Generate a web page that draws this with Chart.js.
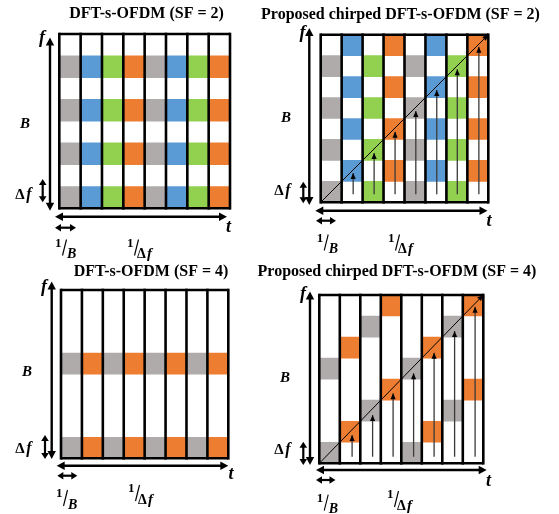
<!DOCTYPE html>
<html>
<head>
<meta charset="utf-8">
<script src="https://cdn.jsdelivr.net/npm/chart.js@4.4.1/dist/chart.umd.min.js"></script>
<style>
  html, body { margin: 0; padding: 0; background: #fff; }
  #wrap { position: relative; width: 559px; height: 514px; overflow: hidden; }
  #wrap canvas { position: absolute; left: 0; top: 0; }
</style>
</head>
<body>
<div id="wrap">
  <canvas id="p1" width="559" height="514"></canvas>
  <canvas id="p2" width="559" height="514"></canvas>
  <canvas id="p3" width="559" height="514"></canvas>
  <canvas id="p4" width="559" height="514"></canvas>
</div>
<script>
// time slots (OFDM symbols) along t
const symbols = ['1', '2', '3', '4', '5', '6', '7', '8'];
const subcarriers = 8;

// which user each symbol column belongs to
const userSF2 = [0, 1, 2, 3, 0, 1, 2, 3];
const userSF4 = [0, 3, 0, 3, 0, 3, 0, 3];

// occupied subcarrier rows (from bottom) in every symbol, plain DFT-s-OFDM
const rowsDftSF2 = [0, 2, 4, 6];
const rowsDftSF4 = [0, 4];

// occupied rows per symbol for the chirped version
const rowsChirpSF2 = [[0, 2, 4, 6], [1, 3, 5, 7], [0, 2, 4, 6], [1, 3, 5, 7],
                      [0, 2, 4, 6], [1, 3, 5, 7], [0, 2, 4, 6], [1, 3, 5, 7]];
const rowsChirpSF4 = [[0, 4], [1, 5], [2, 6], [3, 7], [0, 4], [1, 5], [2, 6], [3, 7]];

// frequency sweep arrows inside each symbol (x position, start, end)
const sweepX2 = [1.55, 2.55, 3.55, 4.54, 5.54, 6.52, 7.55];
const sweepFrom2 = [0.38, 0.38, 0.38, 0.38, 0.38, 0.38, 0.38];
const sweepTo2 = [1.4, 2.35, 3.37, 4.36, 5.36, 6.35, 7.43];
const sweepX4 = [1.6, 2.6, 3.6, 4.6, 5.6, 6.6, 7.6];
const sweepFrom4 = [0.31, 0.31, 0.31, 0.31, 0.31, 0.31, 0.31];
const sweepTo4 = [1.35, 2.3, 3.33, 4.28, 5.26, 6.29, 7.44];

// the chirp itself: a straight line across the whole block
const chirpX = [0, 8];
const chirpY = [0, 8];

const palette = ['#afabab', '#5b9bd5', '#92d050', '#ed7d31'];

function cellSets(rowsFor, users, count) {
  const sets = [];
  for (let k = 0; k < count; k++) {
    sets.push({
      type: 'bar',
      data: symbols.map((_, c) => [rowsFor(c)[k], rowsFor(c)[k] + 1]),
      backgroundColor: symbols.map((_, c) => palette[users[c]]),
      borderWidth: 0,
      grouped: false,
      barPercentage: 1,
      categoryPercentage: 1,
      xAxisID: 'x',
      order: 2
    });
  }
  return sets;
}

function lineSets(xs, from, to) {
  const sets = xs.map((x, i) => ({
    type: 'line',
    data: [{ x: x, y: from[i] }, { x: x, y: to[i] }],
    borderColor: '#3a3a3a',
    borderWidth: 1.3,
    pointRadius: 0,
    xAxisID: 'x2',
    arrow: true,
    order: 1
  }));
  sets.push({
    type: 'line',
    data: chirpX.map((x, i) => ({ x: x, y: chirpY[i] })),
    borderColor: '#000',
    borderWidth: 1,
    pointRadius: 0,
    xAxisID: 'x2',
    arrow: true,
    order: 1
  });
  return sets;
}

function arrowHead(ctx, x1, y1, x2, y2, len, half) {
  const a = Math.atan2(y2 - y1, x2 - x1);
  ctx.beginPath();
  ctx.moveTo(x2, y2);
  ctx.lineTo(x2 - len * Math.cos(a) + half * Math.sin(a), y2 - len * Math.sin(a) - half * Math.cos(a));
  ctx.lineTo(x2 - len * Math.cos(a) - half * Math.sin(a), y2 - len * Math.sin(a) + half * Math.cos(a));
  ctx.closePath();
  ctx.fill();
}

function dblArrow(ctx, x1, y1, x2, y2, w, len, half) {
  ctx.lineWidth = w;
  const a = Math.atan2(y2 - y1, x2 - x1);
  ctx.beginPath();
  ctx.moveTo(x1 + len * 0.8 * Math.cos(a), y1 + len * 0.8 * Math.sin(a));
  ctx.lineTo(x2 - len * 0.8 * Math.cos(a), y2 - len * 0.8 * Math.sin(a));
  ctx.stroke();
  arrowHead(ctx, x1, y1, x2, y2, len, half);
  arrowHead(ctx, x2, y2, x1, y1, len, half);
}

function frac(ctx, x, y, denom) {
  ctx.textAlign = 'left';
  ctx.textBaseline = 'alphabetic';
  ctx.font = 'bold 13px "Liberation Serif"';
  ctx.fillText('1', x, y);
  ctx.lineWidth = 1.1;
  ctx.beginPath();
  ctx.moveTo(x + 11.5, y - 7);
  ctx.lineTo(x + 7.5, y + 9);
  ctx.stroke();
  if (denom === 'B') {
    ctx.font = 'bold italic 14px "Liberation Serif"';
    ctx.fillText('B', x + 12, y + 11.5);
  } else {
    ctx.font = 'bold 14px "Liberation Serif"';
    ctx.fillText('\u0394', x + 10, y + 11.5);
    ctx.font = 'bold italic 15px "Liberation Serif"';
    ctx.fillText('f', x + 20, y + 11.5);
  }
}

function drawFrame(chart) {
  const ctx = chart.ctx, xs = chart.scales.x2, ys = chart.scales.y;
  const top = ys.getPixelForValue(subcarriers), bottom = ys.getPixelForValue(0);
  ctx.save();
  ctx.strokeStyle = '#000';
  ctx.lineWidth = 2.6;
  for (let i = 0; i <= symbols.length; i++) {
    const x = xs.getPixelForValue(i);
    ctx.beginPath();
    ctx.moveTo(x, top - 1.3);
    ctx.lineTo(x, bottom + 1.3);
    ctx.stroke();
  }
  ctx.beginPath();
  ctx.moveTo(xs.getPixelForValue(0), top);
  ctx.lineTo(xs.getPixelForValue(symbols.length), top);
  ctx.moveTo(xs.getPixelForValue(0), bottom);
  ctx.lineTo(xs.getPixelForValue(symbols.length), bottom);
  ctx.stroke();
  ctx.restore();
}

const deco = {
  id: 'deco',
  beforeDatasetsDraw(chart) { chart.$framed = false; },
  beforeDatasetDraw(chart, args) {
    if (!chart.$framed && args.meta.type === 'line') { drawFrame(chart); chart.$framed = true; }
  },
  afterDatasetsDraw(chart) {
    if (!chart.$framed) { drawFrame(chart); chart.$framed = true; }
    const ctx = chart.ctx;
    ctx.save();
    ctx.fillStyle = '#000';
    chart.data.datasets.forEach((ds, i) => {
      if (!ds.arrow) return;
      const pts = chart.getDatasetMeta(i).data;
      const p1 = pts[pts.length - 2], p2 = pts[pts.length - 1];
      arrowHead(ctx, p1.x, p1.y, p2.x, p2.y, 6, 2.6);
    });
    ctx.restore();
  },
  afterDraw(chart, args, o) {
    const ctx = chart.ctx;
    ctx.save();
    ctx.fillStyle = '#000';
    ctx.strokeStyle = '#000';
    ctx.textAlign = 'center';
    ctx.textBaseline = 'middle';
    ctx.font = 'bold 16px "Liberation Serif"';
    ctx.fillText(o.title[0], o.title[1], o.title[2]);
    // axes
    dblArrow(ctx, o.fAxis[0], o.fAxis[1], o.fAxis[0], o.fAxis[2], 2.4, 8, 4.2);
    dblArrow(ctx, o.dfAxis[0], o.dfAxis[1], o.dfAxis[0], o.dfAxis[2], 2.2, 6, 3.8);
    dblArrow(ctx, o.tAxis[1], o.tAxis[0], o.tAxis[2], o.tAxis[0], 2.4, 8, 4.2);
    dblArrow(ctx, o.bAxis[1], o.bAxis[0], o.bAxis[2], o.bAxis[0], 2.2, 6, 3.8);
    ctx.textAlign = 'center';
    ctx.textBaseline = 'middle';
    ctx.font = 'bold italic 18px "Liberation Serif"';
    ctx.fillText('f', o.fLab[0], o.fLab[1]);
    ctx.fillText('t', o.tLab[0], o.tLab[1]);
    ctx.font = 'bold italic 15px "Liberation Serif"';
    ctx.fillText('B', o.bLab[0], o.bLab[1]);
    ctx.font = 'bold 15px "Liberation Serif"';
    ctx.fillText('\u0394', o.dfLab[0] - 4, o.dfLab[1]);
    ctx.font = 'bold italic 16px "Liberation Serif"';
    ctx.fillText('f', o.dfLab[0] + 5, o.dfLab[1]);
    frac(ctx, o.invB[0], o.invB[1], 'B');
    frac(ctx, o.invDf[0], o.invDf[1], 'df');
    ctx.restore();
  }
};

function makePanel(id, box, datasets, layout) {
  new Chart(document.getElementById(id), {
    type: 'bar',
    data: { labels: symbols, datasets: datasets },
    options: {
      responsive: false,
      animation: false,
      events: [],
      layout: { padding: { left: box[0], top: box[1], right: 559 - box[2], bottom: 514 - box[3] } },
      scales: {
        x: { type: 'category', display: false, offset: true },
        x2: { type: 'linear', display: false, offset: false, min: 0, max: symbols.length },
        y: { type: 'linear', display: false, min: 0, max: subcarriers }
      },
      plugins: { legend: { display: false }, tooltip: { enabled: false }, deco: layout }
    },
    plugins: [deco]
  });
}

makePanel('p1', [59.3, 34, 230, 208.3],
  cellSets(() => rowsDftSF2, userSF2, rowsDftSF2.length),
  { title: ['DFT-s-OFDM (SF = 2)', 146.5, 14],
    fAxis: [50, 210.7, 37.5], dfAxis: [42.7, 179, 202.3], tAxis: [216.7, 55, 227],
    bAxis: [227.7, 55, 76], fLab: [42, 38], tLab: [228.5, 227], bLab: [25, 124], dfLab: [24, 195],
    invB: [55, 246.5], invDf: [127, 246.5] });

makePanel('p2', [320.7, 34.7, 488.3, 202.3],
  cellSets(c => rowsChirpSF2[c], userSF2, 4).concat(lineSets(sweepX2, sweepFrom2, sweepTo2)),
  { title: ['Proposed chirped DFT-s-OFDM (SF = 2)', 400.5, 15],
    fAxis: [309.3, 205, 28], dfAxis: [303.3, 181.7, 203.3], tAxis: [210.7, 315.3, 487.5],
    bAxis: [220.7, 316, 336], fLab: [302.5, 33], tLab: [489, 221], bLab: [286, 118], dfLab: [283, 191],
    invB: [316.7, 241.5], invDf: [388, 241.5] });

makePanel('p3', [61, 290, 228.3, 458.3],
  cellSets(() => rowsDftSF4, userSF4, rowsDftSF4.length),
  { title: ['DFT-s-OFDM (SF = 4)', 151, 271.7],
    fAxis: [51.7, 459, 281.5], dfAxis: [45, 435, 459], tAxis: [465.7, 56.7, 228.3],
    bAxis: [475.7, 57.3, 77.3], fLab: [44, 287], tLab: [231, 474], bLab: [27, 372], dfLab: [24, 449],
    invB: [56, 497], invDf: [128, 492] });

makePanel('p4', [319.3, 295, 483.3, 463.3],
  cellSets(c => rowsChirpSF4[c], userSF4, 2).concat(lineSets(sweepX4, sweepFrom4, sweepTo4)),
  { title: ['Proposed chirped DFT-s-OFDM (SF = 4)', 397, 272],
    fAxis: [310, 465, 291.5], dfAxis: [303.3, 441.7, 465], tAxis: [470, 316, 486.7],
    bAxis: [480, 316, 335.5], fLab: [303, 294], tLab: [488.5, 481], bLab: [285, 378], dfLab: [283, 450],
    invB: [316.7, 501.7], invDf: [387, 498] });
</script>
</body>
</html>
